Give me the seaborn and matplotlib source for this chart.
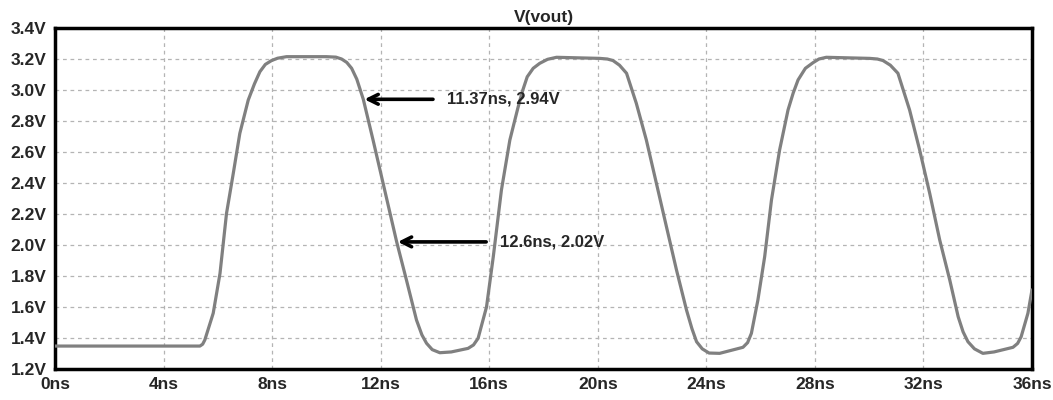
import matplotlib
matplotlib.use("Agg")
import matplotlib.pyplot as plt
import seaborn as sns
import pandas as pd

# ---- data ----
time_ns = [0.0, 5.34, 5.44, 5.52, 5.83, 6.08, 6.32, 6.57, 6.81, 7.12, 7.35, 7.55, 7.75, 7.98,
           8.2, 8.53, 10.0, 10.35, 10.56, 10.75, 10.93, 11.12, 11.36, 11.72, 12.09, 12.59,
           12.95, 13.32, 13.52, 13.69, 13.9, 14.18, 14.6, 15.22, 15.42, 15.59, 15.9, 16.15,
           16.45, 16.76, 17.05, 17.22, 17.4, 17.62, 17.86, 18.15, 18.48, 20.07, 20.35, 20.56,
           20.8, 21.06, 21.42, 21.79, 22.16, 22.53, 22.9, 23.27, 23.47, 23.64, 23.85, 24.1,
           24.49, 25.35, 25.52, 25.66, 25.9, 26.15, 26.4, 26.7, 27.01, 27.2, 27.38, 27.65,
           27.93, 28.15, 28.42, 30.02, 30.3, 30.51, 30.78, 31.06, 31.49, 31.86, 32.23, 32.6,
           32.97, 33.28, 33.46, 33.64, 33.88, 34.19, 34.6, 35.3, 35.47, 35.6, 35.85, 36.0]
vout_v = [1.348, 1.348, 1.36, 1.387, 1.56, 1.817, 2.204, 2.463, 2.72, 2.935, 3.04, 3.118,
          3.165, 3.19, 3.205, 3.215, 3.215, 3.212, 3.20, 3.178, 3.14, 3.07, 2.94, 2.677,
          2.398, 2.02, 1.774, 1.516, 1.42, 1.366, 1.325, 1.305, 1.31, 1.333, 1.355, 1.398,
          1.60, 1.925, 2.355, 2.677, 2.88, 2.99, 3.085, 3.14, 3.172, 3.198, 3.211, 3.204,
          3.2, 3.19, 3.16, 3.108, 2.914, 2.677, 2.398, 2.118, 1.839, 1.58, 1.46, 1.376,
          1.33, 1.303, 1.301, 1.34, 1.37, 1.43, 1.645, 1.925, 2.29, 2.613, 2.871, 2.98,
          3.065, 3.14, 3.176, 3.2, 3.211, 3.204, 3.2, 3.19, 3.16, 3.108, 2.871, 2.613,
          2.334, 2.032, 1.774, 1.537, 1.44, 1.376, 1.33, 1.301, 1.31, 1.34, 1.365, 1.408,
          1.56, 1.71]

x_ticks = [0, 4, 8, 12, 16, 20, 24, 28, 32, 36]
x_tick_labels = ["0ns", "4ns", "8ns", "12ns", "16ns", "20ns", "24ns", "28ns", "32ns", "36ns"]
y_ticks = [1.2, 1.4, 1.6, 1.8, 2.0, 2.2, 2.4, 2.6, 2.8, 3.0, 3.2, 3.4]
y_tick_labels = ["1.2V", "1.4V", "1.6V", "1.8V", "2.0V", "2.2V", "2.4V", "2.6V",
                 "2.8V", "3.0V", "3.2V", "3.4V"]

cursor_t = [11.37, 12.6]
cursor_v = [2.94, 2.02]
cursor_labels = ["11.37ns, 2.94V", "12.6ns, 2.02V"]
label_t = [14.03, 15.99]

title = "V(vout)"

# ---- styling ----
sns.set_style("white")
plt.rcParams["font.family"] = ["Liberation Sans", "DejaVu Sans"]
plt.rcParams["font.weight"] = "bold"

fig = plt.figure(figsize=(10.53, 4.0), dpi=100)
ax = fig.add_axes([55 / 1053, 1 - 369 / 400, (1032 - 55) / 1053, (369 - 28) / 400])

df = pd.DataFrame({"t": time_ns, "v": vout_v})
sns.lineplot(data=df, x="t", y="v", ax=ax, color="#808080", linewidth=2.3, zorder=3)

ax.set_xlim(0, 36)
ax.set_ylim(1.2, 3.4)
ax.set_xticks(x_ticks)
ax.set_xticklabels(x_tick_labels, fontsize=12.5, fontweight="bold")
ax.set_yticks(y_ticks)
ax.set_yticklabels(y_tick_labels, fontsize=12.5, fontweight="bold")
ax.set_xlabel("")
ax.set_ylabel("")

ax.grid(True, color="#b4b4b4", linestyle=(0, (3, 3)), linewidth=0.9)
for s in ax.spines.values():
    s.set_color("black")
    s.set_linewidth(2.5)
ax.tick_params(axis="both", direction="out", length=5, width=2.2, color="black", pad=1)

ax.set_title(title, fontsize=12.5, fontweight="bold", pad=4)

for tt, vv, lab, lt in zip(cursor_t, cursor_v, cursor_labels, label_t):
    ax.annotate("", xy=(tt - 0.07, vv), xytext=(lt, vv),
                arrowprops=dict(arrowstyle="->,head_length=0.7,head_width=0.35",
                                color="black", lw=2.6), zorder=5)
    ax.text(lt + 0.4, vv, lab, fontsize=12, fontweight="bold", va="center", ha="left",
            zorder=5)

fig.savefig("out.png", dpi=100)
